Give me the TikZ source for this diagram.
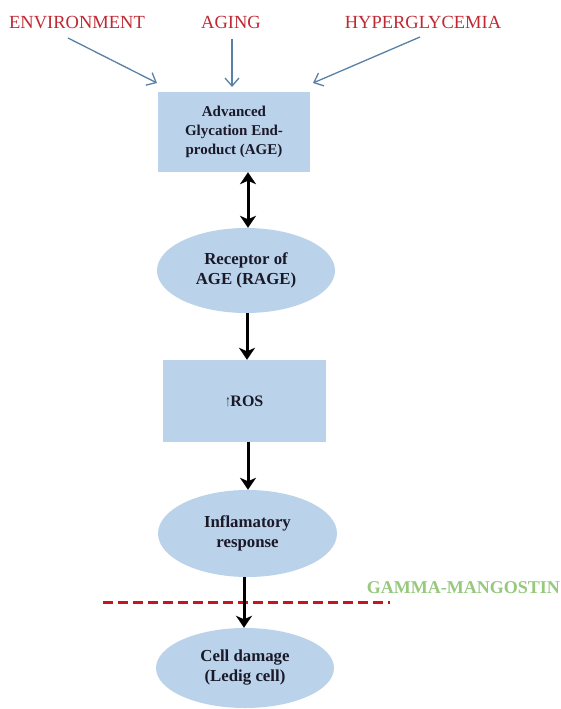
\documentclass[tikz,border=0pt]{standalone}
\usepackage{fontspec}
\setmainfont{Liberation Serif}
\usetikzlibrary{arrows.meta,shapes.geometric}
\definecolor{lblred}{RGB}{192,40,50}
\definecolor{nodefill}{RGB}{187,210,235}
\definecolor{inarrow}{RGB}{88,128,168}
\definecolor{gammagreen}{RGB}{150,200,125}
\definecolor{cutred}{RGB}{200,20,30}
\definecolor{txt}{RGB}{25,25,40}
\tikzset{
  toplabel/.style={text=lblred,font=\fontsize{18.5}{20}\selectfont,inner sep=0pt,anchor=base},
  boxnode/.style={draw=none,fill=nodefill,rectangle,align=center,text=txt,
     font=\bfseries\fontsize{15}{19}\selectfont,inner sep=0pt},
  ellnode/.style={draw=none,fill=nodefill,ellipse,align=center,text=txt,
     font=\bfseries\fontsize{16.8}{20}\selectfont,inner sep=0pt},
  inarr/.style={draw=inarrow,line width=1.3pt,-{Straight Barb[length=8pt,width=14pt]}},
  flowarr/.style={draw=black,line width=3pt,-{Stealth[length=12pt,width=16pt,inset=3.5pt]}},
  flowdbl/.style={draw=black,line width=3pt,{Stealth[length=12pt,width=16pt,inset=3.5pt]}-{Stealth[length=12pt,width=16pt,inset=3.5pt]}},
  cutline/.style={draw=cutred,line width=3pt,dash pattern=on 10pt off 5pt}
}
\begin{document}
\begin{tikzpicture}[x=1pt,y=-1pt]
\useasboundingbox[fill=white] (0,0) rectangle (560,709);
% top labels
\node[toplabel] (env) at (77,29) {ENVIRONMENT};
\node[toplabel] (aging) at (231,29) {AGING};
\node[toplabel] (hyper) at (423,29) {HYPERGLYCEMIA};
% flow nodes
\node[boxnode,minimum width=152pt,minimum height=80pt] (age) at (234,132)
  {Advanced\\Glycation End-\\product (AGE)};
\node[ellnode,minimum width=178pt,minimum height=85pt] (rage) at (246,270.5)
  {Receptor of\\AGE (RAGE)};
\node[boxnode,minimum width=163pt,minimum height=82pt] (ros) at (244.5,401)
  {\fontsize{16}{19}\selectfont\scalebox{0.6}[1]{↑}ROS};
\node[ellnode,minimum width=179pt,minimum height=87pt] (infl) at (247.5,533.5)
  {Inflamatory\\response};
\node[ellnode,minimum width=178pt,minimum height=80pt] (cell) at (245,668)
  {Cell damage\\(Ledig cell)};
% gamma-mangostin
\node[text=gammagreen,font=\bfseries\fontsize{18}{20}\selectfont,inner sep=0pt,anchor=base east] (gamma) at (560,593) {GAMMA-MANGOSTIN};
% incoming arrows
\coordinate (e1) at (68,38);
\coordinate (e2) at (157,83);
\coordinate (h1) at (420,37);
\coordinate (h2) at (313,83);
\coordinate (a1) at (232,39);
\coordinate (a2) at (232,87);
\draw[inarr] (e1) -- (e2);
\draw[inarr] (a1) -- (a2);
\draw[inarr] (h1) -- (h2);
% flow arrows
\draw[flowdbl] (age.south -| 248,0) -- (rage.north -| 248,0);
\draw[flowarr] (rage.south -| 247,0) -- (ros.north -| 247,0);
\draw[flowarr] (ros.south -| 248,0) -- (infl.north -| 248,0);
% cut line
\coordinate (c1) at (103,602);
\coordinate (c2) at (390,602);
\draw[cutline] (c1) -- (c2);
\draw[flowarr] (infl.south -| 244,0) -- (cell.north -| 244,0);
\end{tikzpicture}
\end{document}
